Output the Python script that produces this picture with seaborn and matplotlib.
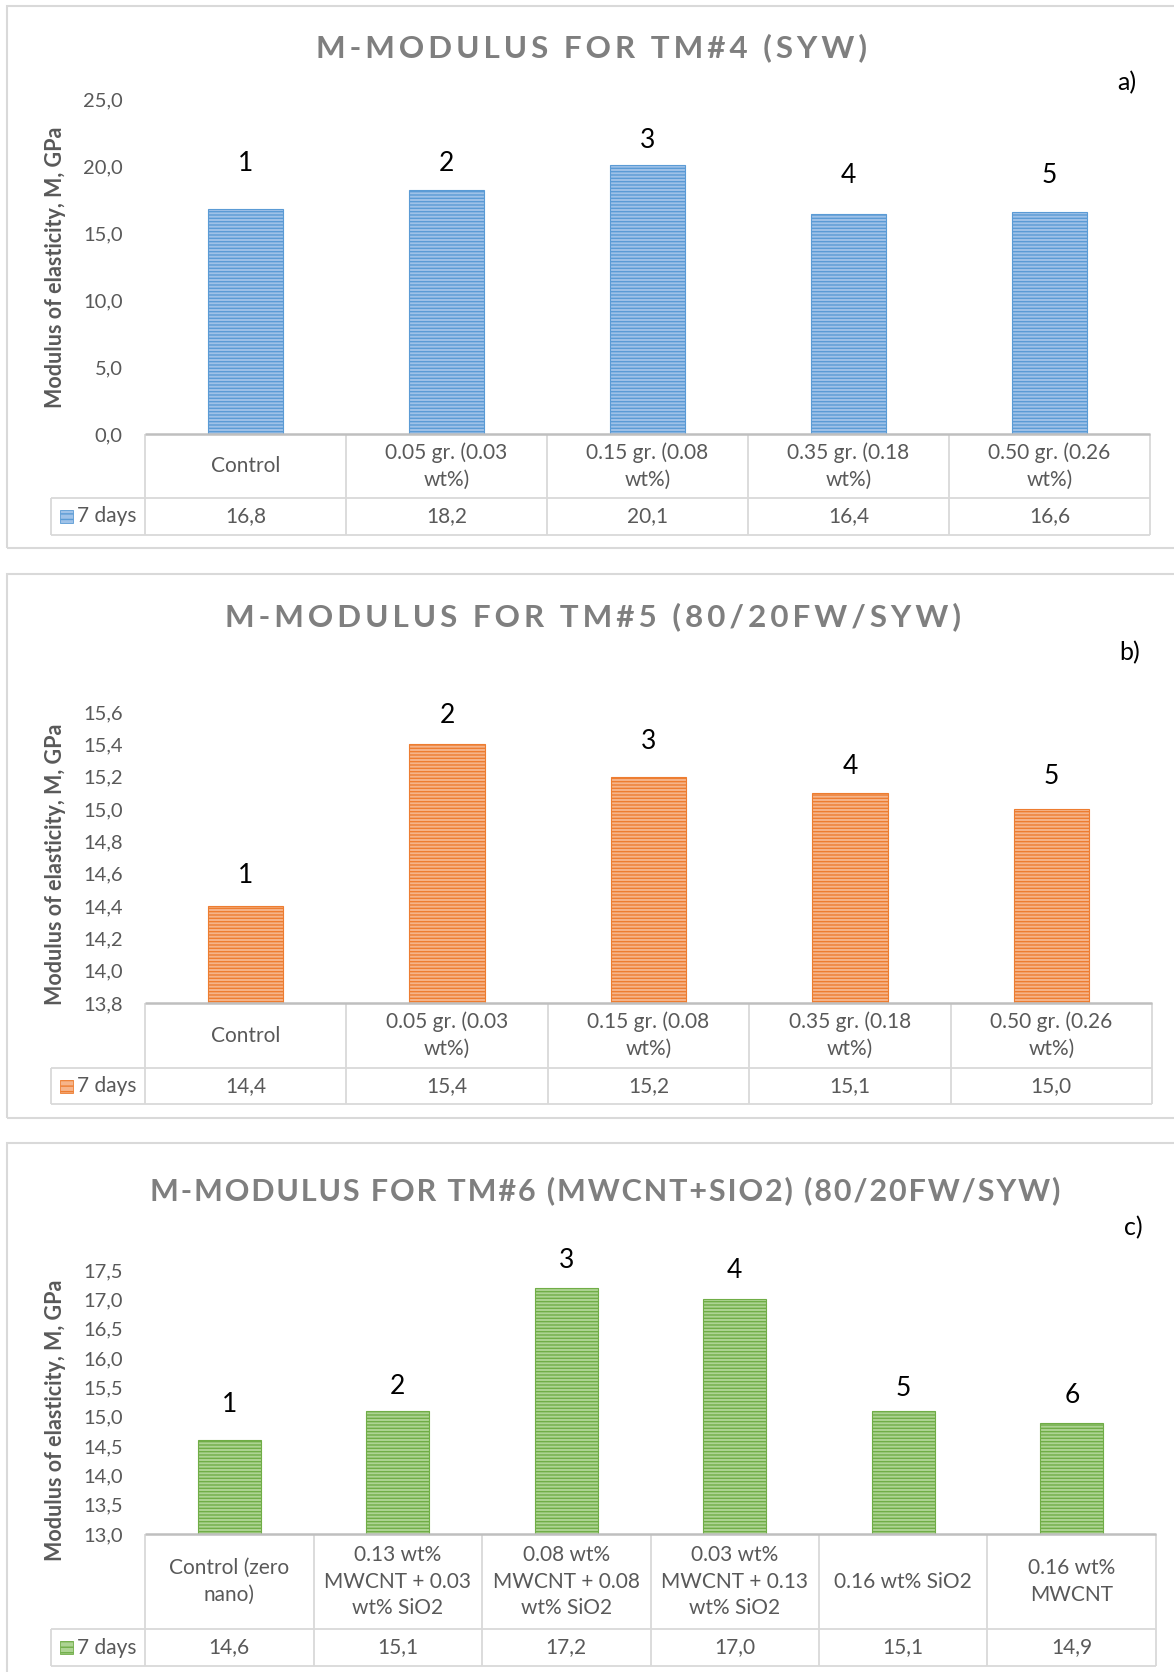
import numpy as np
import pandas as pd
import matplotlib
matplotlib.use("Agg")
import matplotlib.pyplot as plt
from matplotlib.patches import Rectangle
from matplotlib.ticker import FuncFormatter, MultipleLocator
import seaborn as sns

# ---------------- data ----------------
tm4_categories = ["Control", "0.05 gr. (0.03\nwt%)", "0.15 gr. (0.08\nwt%)",
                  "0.35 gr. (0.18\nwt%)", "0.50 gr. (0.26\nwt%)"]
tm4_values = [16.8, 18.2, 20.1, 16.4, 16.6]

tm5_categories = ["Control", "0.05 gr. (0.03\nwt%)", "0.15 gr. (0.08\nwt%)",
                  "0.35 gr. (0.18\nwt%)", "0.50 gr. (0.26\nwt%)"]
tm5_values = [14.4, 15.4, 15.2, 15.1, 15.0]

tm6_categories = ["Control (zero\nnano)", "0.13 wt%\nMWCNT + 0.03\nwt% SiO2",
                  "0.08 wt%\nMWCNT + 0.08\nwt% SiO2", "0.03 wt%\nMWCNT + 0.13\nwt% SiO2",
                  "0.16 wt% SiO2", "0.16 wt%\nMWCNT"]
tm6_values = [14.6, 15.1, 17.2, 17.0, 15.1, 14.9]

series_name = "7 days"
titles = ["M-MODULUS FOR TM#4 (SYW)",
          "M-MODULUS FOR TM#5 (80/20FW/SYW)",
          "M-MODULUS FOR TM#6 (MWCNT+SIO2) (80/20FW/SYW)"]
panel_tags = ["a)", "b)", "c)"]
y_label = "Modulus of elasticity, M, GPa"

# number labels sit this far above each bar (in data units)
tm4_number_lift = [3.4, 2.0, 1.8, 2.9, 2.7]
tm5_number_lift = [0.19, 0.18, 0.22, 0.16, 0.20]
tm6_number_lift = [0.61, 0.42, 0.46, 0.49, 0.38, 0.46]

# ---------------- style ----------------
sns.set_style("white")
plt.rcParams["font.family"] = ["Lato", "DejaVu Sans"]
plt.rcParams["hatch.linewidth"] = 1.0

W, H = 1174, 1672
fig = plt.figure(figsize=(W / 100, H / 100), dpi=100)
fig.patch.set_facecolor("white")

GRID = "#d9d9d9"
AXLINE = "#bfbfbf"
TEXT = "#595959"
TITLE = "#7f7f7f"

palettes = [("#9fc2e8", "#5b9bd5"),
            ("#f6b48a", "#ed7d31"),
            ("#add493", "#70ad47")]


def px_box(l, t, r, b):
    return [l / W, 1 - b / H, (r - l) / W, (b - t) / H]


def comma(v, _=None):
    return f"{v:.1f}".replace(".", ",")


# panel geometry in pixels
layouts = [
    dict(frame=(7, 6, 1190, 548), plot=(145, 99, 1150, 434), leg_left=51,
         hdr_bottom=498, tab_bottom=535, title_xy=(592, 48), tag_xy=(1127, 83),
         ylab_y=267, linesp=1.42, title_size=22.6, title_gap="\u200a\u200a"),
    dict(frame=(7, 574, 1190, 1118), plot=(145, 712, 1152, 1003), leg_left=51,
         hdr_bottom=1068, tab_bottom=1104, title_xy=(593, 617), tag_xy=(1130, 653),
         ylab_y=864, linesp=1.42, title_size=22.6, title_gap="\u200a\u200a"),
    dict(frame=(7, 1143, 1190, 1700), plot=(145, 1270, 1156, 1534), leg_left=51,
         hdr_bottom=1629, tab_bottom=1666, title_xy=(605, 1191), tag_xy=(1133, 1228),
         ylab_y=1420, linesp=1.42, title_size=22, title_gap="\u200a"),
]

panels = [
    (tm4_categories, tm4_values, tm4_number_lift, (0.0, 25.0, 5.0)),
    (tm5_categories, tm5_values, tm5_number_lift, (13.8, 15.6, 0.2)),
    (tm6_categories, tm6_values, tm6_number_lift, (13.0, 17.5, 0.5)),
]

for k, (cats, vals, lifts, (lo, hi, step)) in enumerate(panels):
    lay = layouts[k]
    light, dark = palettes[k]
    n = len(cats)

    # outer chart frame
    fx0, fy0, fx1, fy1 = lay["frame"]
    fig.add_artist(Rectangle((fx0 / W, 1 - fy1 / H), (fx1 - fx0) / W, (fy1 - fy0) / H,
                             transform=fig.transFigure, fill=False,
                             edgecolor=GRID, linewidth=1.5))

    # bars
    l, t, r, b = lay["plot"]
    ax = fig.add_axes(px_box(l, t, r, b))
    df = pd.DataFrame({"category": cats, "value": vals})
    sns.barplot(data=df, x="category", y="value", ax=ax, color=light,
                saturation=1, width=0.375, errorbar=None, linewidth=0.8)
    for p in ax.patches:
        p.set_hatch("-----")
        p.set_edgecolor(dark)
        p.set_linewidth(0.8)
    ax.set_xlim(-0.5, n - 0.5)
    ax.set_ylim(lo, hi)
    ax.yaxis.set_major_locator(MultipleLocator(step))
    ax.yaxis.set_major_formatter(FuncFormatter(comma))
    ax.tick_params(axis="y", length=0, pad=16, labelsize=14.5, labelcolor=TEXT)
    ax.set_xticks([])
    ax.set_xlabel("")
    for s in ax.spines.values():
        s.set_visible(False)
    ax.patch.set_alpha(0)
    ax.set_ylabel(y_label, fontsize=15.5, fontweight="bold", color=TEXT, va="center")
    ax.yaxis.set_label_coords((55 - l) / (r - l), (b - lay["ylab_y"]) / (b - t))

    # bar numbers
    for i, (v, d) in enumerate(zip(vals, lifts)):
        ax.text(i, v + d, str(i + 1), ha="center", va="center",
                fontsize=19, color="black", clip_on=False)

    # data table under the plot
    tl = lay["leg_left"]
    bot = lay["tab_bottom"]
    axt = fig.add_axes(px_box(tl, b, r, bot))
    colw = (r - l) / n
    left_x = -0.5 - (l - tl) / colw
    hh = lay["hdr_bottom"] - b
    th = bot - b
    axt.set_xlim(left_x, n - 0.5)
    axt.set_ylim(th, 0)
    axt.axis("off")
    axt.vlines(np.arange(n + 1) - 0.5, 0, th, color=GRID, linewidth=1.3, clip_on=False)
    axt.hlines([hh, th], left_x, n - 0.5, color=GRID, linewidth=1.3, clip_on=False)
    axt.vlines(left_x, hh, th, color=GRID, linewidth=1.3, clip_on=False)
    axt.hlines(0, -0.5, n - 0.5, color=AXLINE, linewidth=1.8, clip_on=False)
    for i, (c, v) in enumerate(zip(cats, vals)):
        axt.text(i, hh / 2, c, ha="center", va="center", multialignment="center",
                 fontsize=15, color=TEXT, linespacing=lay["linesp"])
        axt.text(i, (hh + th) / 2, comma(v), ha="center", va="center",
                 fontsize=15, color=TEXT)
    sq = 13
    axt.add_patch(Rectangle((left_x + (60 - tl) / colw, (hh + th) / 2 - sq / 2),
                            sq / colw, sq, facecolor=light, edgecolor=dark,
                            hatch="---", linewidth=0.6))
    axt.text(left_x + (77 - tl) / colw, (hh + th) / 2, series_name, ha="left",
             va="center", fontsize=15, color=TEXT)

    # title and tag
    tx, ty = lay["title_xy"]
    fig.text(tx / W, 1 - ty / H, lay["title_gap"].join(titles[k]), ha="center",
             va="center", fontsize=lay["title_size"], fontweight="bold", color=TITLE)
    gx, gy = lay["tag_xy"]
    fig.text(gx / W, 1 - gy / H, panel_tags[k], ha="center", va="center",
             fontsize=18, color="black")

fig.savefig("out.png", dpi=100)
